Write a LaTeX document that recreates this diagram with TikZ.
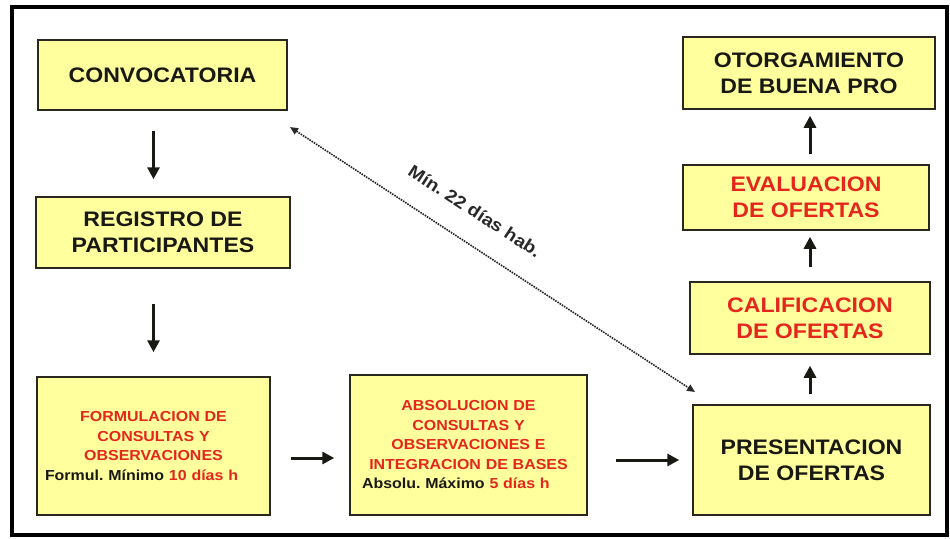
\documentclass[tikz,border=0pt]{standalone}
\usepackage{fontspec}
\setmainfont{Liberation Sans}[FakeStretch=1.1]
\frenchspacing
\usetikzlibrary{arrows.meta}
\definecolor{amarillo}{RGB}{255,255,158}
\definecolor{rojo}{RGB}{228,38,28}
\definecolor{borde}{RGB}{40,40,30}
\definecolor{texto}{RGB}{25,25,20}
\definecolor{gris}{RGB}{40,40,40}

\begin{document}
\begin{tikzpicture}[x=1pt,y=-1pt,
        caja/.style={draw=borde, line width=1.5pt, fill=amarillo, align=center, inner sep=0pt,
            text=texto, font=\bfseries\fontsize{21}{26}\selectfont},
        cajachica/.style={caja, text=rojo, font=\bfseries\fontsize{14.5}{19.5}\selectfont},
        flecha/.style={texto, line width=3pt, -{Triangle[length=12pt,width=12pt]}}]

            \useasboundingbox (0,0) rectangle (950,538);
            \draw[line width=3.5pt] (12,7) rectangle (947,535);

            \node[caja, minimum width=249pt, minimum height=70pt] (convoc) at (162.5,75) {CONVOCATORIA};
            \node[caja, minimum width=254pt, minimum height=71pt] (registro) at (163,232.5) {REGISTRO DE\\PARTICIPANTES};

            \node[cajachica, minimum width=233pt, minimum height=138pt, text width=217pt, inner xsep=8pt] (formul) at (153.5,446)
                {FORMULACION DE\\CONSULTAS Y\\OBSERVACIONES\\\makebox[217pt][l]{\textcolor{texto}{Formul. Mínimo} 10 días h}};
            \node[cajachica, minimum width=237pt, minimum height=140pt, text width=213pt, inner xsep=12pt] (absol) at (468.5,445)
                {ABSOLUCION DE\\CONSULTAS Y\\OBSERVACIONES E\\INTEGRACION DE BASES\\\makebox[213pt][l]{\textcolor{texto}{Absolu. Máximo} 5 días h}};

            \node[caja, minimum width=237pt, minimum height=110pt] (pres) at (811.5,460) {PRESENTACION\\DE OFERTAS};
            \node[caja, text=rojo, minimum width=240pt, minimum height=72pt] (calif) at (810,318) {CALIFICACION\\DE OFERTAS};
            \node[caja, text=rojo, minimum width=246pt, minimum height=65pt] (eval) at (806,197.5) {EVALUACION\\DE OFERTAS};
            \node[caja, minimum width=252pt, minimum height=72pt] (otorg) at (809,73) {OTORGAMIENTO\\DE BUENA PRO};

            \draw[flecha, shorten <=20pt, shorten >=17pt] (convoc.south -| formul.north) -- (registro.north -| formul.north);
            \draw[flecha, shorten <=35pt, shorten >=24pt] (registro.south -| formul.north) -- (formul.north);
            \draw[flecha, shorten <=20pt, shorten >=15pt] ([yshift=-12pt]formul.east) -- ([yshift=-12pt]formul.east -| absol.west);
            \draw[flecha, shorten <=28pt, shorten >=13pt] (pres.west -| absol.east) -- (pres.west);
            \draw[flecha, shorten <=10pt, shorten >=11pt] (pres.north -| calif.south) -- (calif.south);
            \draw[flecha, shorten <=14pt, shorten >=6pt] (calif.north) -- (calif.north |- eval.south);
            \draw[flecha, shorten <=10pt, shorten >=6pt] (calif.north |- eval.north) -- (calif.north |- otorg.south);

            \coordinate (dia-a) at (290,127);
            \coordinate (dia-b) at (695,392);
            \draw[gris, line width=1.6pt, densely dotted, {Triangle[length=8pt,width=7pt]}-{Triangle[length=8pt,width=7pt]}] (dia-a) -- (dia-b);
            \node[rotate=-33, text=gris, font=\bfseries\fontsize{17.5}{20}\selectfont] (dia-txt) at (475,211) {Mín. 22 días hab.};

        \end{tikzpicture}
\end{document}
